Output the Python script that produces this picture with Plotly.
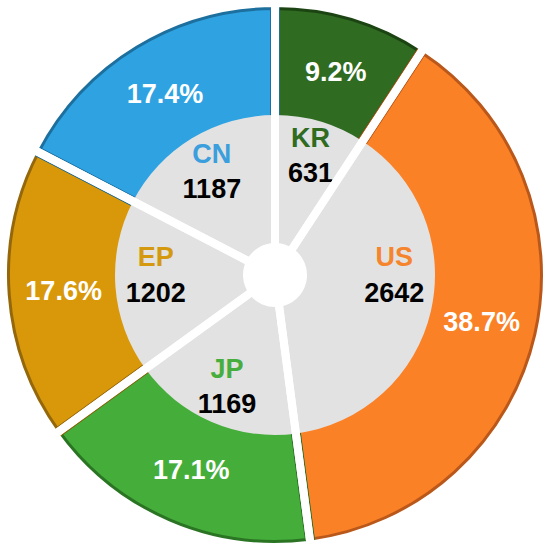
import plotly.graph_objects as go

# Data
offices = ["KR", "US", "JP", "EP", "CN"]
counts = [631, 2642, 1169, 1202, 1187]

# Styles
ring_colors = ["#2F6B21", "#FB8127", "#45AE3A", "#D9980A", "#2FA3E2"]
edge_colors = ["#1C4413", "#B9581A", "#2A7424", "#94670A", "#1D6F9E"]
label_colors = ["#2F6B21", "#F5842C", "#47AD3D", "#D4990F", "#3A9FDC"]
grey = "#E2E2E2"
font_family = "Liberation Sans, Arial, sans-serif"

W, H = 550, 547
cx, cy = 275, 272  # centre from left / from bottom (px)


def dom(r):
    return dict(x=[(cx - r) / W, (cx + r) / W], y=[(cy - r) / H, (cy + r) / H])


R_OUT = 271
R_IN = 160
R_HOLE = 28

inner_text = [
    f"<span style='color:{c}'>{o}</span><br>{v}"
    for o, c, v in zip(offices, label_colors, counts)
]

fig = go.Figure()

# Coloured outer ring with percentages
fig.add_trace(go.Pie(
    labels=offices, values=counts, sort=False, direction="clockwise",
    domain=dom(R_OUT - 1), hole=0.57,
    marker=dict(colors=ring_colors, line=dict(color=edge_colors, width=10)),
    texttemplate="%{percent:.1%}", textposition="inside",
    insidetextorientation="horizontal",
    textfont=dict(family=font_family, size=27, color="white", weight="bold"),
    hoverinfo="skip", showlegend=False,
))

# Grey inner disk
fig.add_trace(go.Pie(
    labels=offices, values=counts, sort=False, direction="clockwise",
    domain=dom(R_IN), hole=R_HOLE / R_IN,
    marker=dict(colors=[grey] * len(offices), line=dict(width=0)),
    textinfo="none", hoverinfo="skip", showlegend=False,
))

# Inner labels (office + count)
fig.add_trace(go.Pie(
    labels=offices, values=counts, sort=False, direction="clockwise",
    domain=dom(R_IN), hole=0.52,
    marker=dict(colors=["rgba(0,0,0,0)"] * len(offices), line=dict(width=0)),
    text=inner_text, textinfo="text", textposition="inside",
    insidetextorientation="horizontal",
    textfont=dict(family=font_family, size=27, color="black", weight="bold"),
    hoverinfo="skip", showlegend=False,
))

# White separators
fig.add_trace(go.Pie(
    labels=offices, values=counts, sort=False, direction="clockwise",
    domain=dom(R_OUT + 1), hole=R_HOLE / (R_OUT + 1),
    marker=dict(colors=["rgba(0,0,0,0)"] * len(offices),
                line=dict(color="white", width=8)),
    textinfo="none", hoverinfo="skip", showlegend=False,
))

fig.update_layout(
    width=W, height=H,
    margin=dict(l=0, r=0, t=0, b=0),
    paper_bgcolor="white", plot_bgcolor="white",
    uniformtext=dict(minsize=27, mode="show"),
    showlegend=False,
)

fig.write_html("out.html", config={"displayModeBar": False},
               post_script="document.body.style.margin='0';")
